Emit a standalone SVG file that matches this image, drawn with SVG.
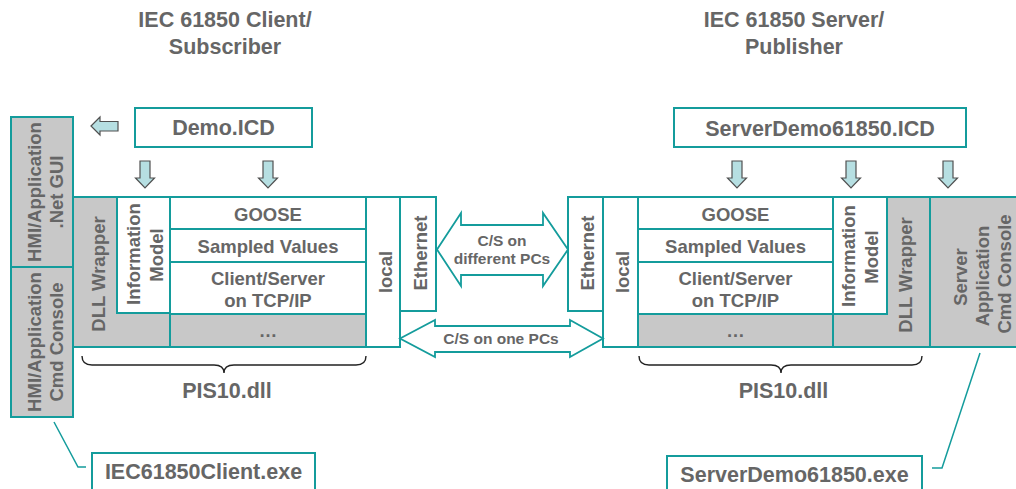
<svg xmlns="http://www.w3.org/2000/svg" width="1016" height="489" viewBox="0 0 1016 489">
<style>
text{font-family:"Liberation Sans",Arial,sans-serif;font-weight:bold;fill:#666666;text-anchor:middle}
.t{font-size:21.5px}
.m{font-size:18.5px}
.s{font-size:15.5px}
.w{fill:#ffffff;stroke:#149c9c;stroke-width:2}
.g{fill:#c8c8c8;stroke:#149c9c;stroke-width:2}
.arr{fill:#b6dfe2;stroke:#505050;stroke-width:1.2}
.dbl{fill:#ffffff;stroke:#149c9c;stroke-width:1.8}
.brace{fill:none;stroke:#222222;stroke-width:1.4}
.lead{fill:none;stroke:#149c9c;stroke-width:1.5}
</style>
<rect width="1016" height="489" fill="#ffffff"/>

<g id="titles">
<text class="t" x="225" y="27">IEC 61850 Client/</text>
<text class="t" x="225" y="54">Subscriber</text>
<text class="t" x="794" y="27">IEC 61850 Server/</text>
<text class="t" x="794" y="54">Publisher</text>
</g>

<g id="demo-icd">
<rect class="w" x="135" y="108" width="177" height="39"/>
<text class="t" x="223.5" y="135">Demo.ICD</text>
</g>
<g id="server-icd">
<rect class="w" x="674" y="108" width="292" height="39"/>
<text class="t" x="820" y="136">ServerDemo61850.ICD</text>
</g>

<g id="hmi-gui">
<rect class="g" x="11" y="117" width="62" height="150"/>
<text class="m" transform="translate(41,192) rotate(-90)">HMI/Application</text>
<text class="m" transform="translate(63,192) rotate(-90)">.Net GUI</text>
</g>
<g id="hmi-cmd">
<rect class="g" x="11" y="267" width="62" height="150"/>
<text class="m" transform="translate(41,342) rotate(-90)">HMI/Application</text>
<text class="m" transform="translate(63,342) rotate(-90)">Cmd Console</text>
</g>

<g id="client-dll-wrapper">
<rect class="g" x="73" y="197" width="97" height="150"/>
<text class="m" transform="translate(105,274) rotate(-90)">DLL Wrapper</text>
</g>
<g id="client-info-model">
<rect class="w" x="117" y="197" width="53" height="116"/>
<text class="m" transform="translate(140,254) rotate(-90)">Information</text>
<text class="m" transform="translate(163,255) rotate(-90)">Model</text>
</g>
<g id="client-goose">
<rect class="w" x="170" y="197" width="196" height="32"/>
<text class="m" x="268" y="221">GOOSE</text>
</g>
<g id="client-sv">
<rect class="w" x="170" y="229" width="196" height="33"/>
<text class="m" x="268" y="253">Sampled Values</text>
</g>
<g id="client-cs">
<rect class="w" x="170" y="262" width="196" height="52"/>
<text class="m" x="268" y="285">Client/Server</text>
<text class="m" x="268" y="307">on TCP/IP</text>
</g>
<g id="client-more">
<rect class="g" x="170" y="314" width="196" height="33"/>
<text class="m" x="268" y="337">…</text>
</g>
<g id="client-local">
<rect class="w" x="366" y="197" width="34" height="150"/>
<text class="m" transform="translate(392,272) rotate(-90)">local</text>
</g>
<g id="client-ethernet">
<rect class="w" x="400" y="197" width="36" height="114"/>
<text class="m" transform="translate(427,253) rotate(-90)">Ethernet</text>
</g>

<g id="server-ethernet">
<rect class="w" x="568" y="197" width="35" height="114"/>
<text class="m" transform="translate(594,253) rotate(-90)">Ethernet</text>
</g>
<g id="server-local">
<rect class="w" x="603" y="197" width="35" height="150"/>
<text class="m" transform="translate(629,272) rotate(-90)">local</text>
</g>
<g id="server-goose">
<rect class="w" x="638" y="197" width="195" height="32"/>
<text class="m" x="735.5" y="221">GOOSE</text>
</g>
<g id="server-sv">
<rect class="w" x="638" y="229" width="195" height="33"/>
<text class="m" x="735.5" y="253">Sampled Values</text>
</g>
<g id="server-cs">
<rect class="w" x="638" y="262" width="195" height="52"/>
<text class="m" x="735.5" y="285">Client/Server</text>
<text class="m" x="735.5" y="307">on TCP/IP</text>
</g>
<g id="server-more">
<rect class="g" x="638" y="314" width="195" height="33"/>
<text class="m" x="735.5" y="337">…</text>
</g>
<g id="server-dll-wrapper">
<rect class="g" x="833" y="197" width="97" height="150"/>
<text class="m" transform="translate(912,275) rotate(-90)">DLL Wrapper</text>
</g>
<g id="server-info-model">
<rect class="w" x="833" y="197" width="54" height="117"/>
<text class="m" transform="translate(855,256) rotate(-90)">Information</text>
<text class="m" transform="translate(878,257) rotate(-90)">Model</text>
</g>
<g id="server-app">
<rect class="g" x="930" y="197" width="95" height="150"/>
<text class="m" transform="translate(967,277) rotate(-90)">Server</text>
<text class="m" transform="translate(989,276) rotate(-90)">Application</text>
<text class="m" transform="translate(1011,274) rotate(-90)">Cmd Console</text>
</g>

<g id="pis-left">
<path class="brace" d="M82,356 Q82,365 92,365 L214,365 Q224,365 224,373 Q224,365 234,365 L356,365 Q366,365 366,356"/>
<text class="t" x="227" y="398">PIS10.dll</text>
</g>
<g id="pis-right">
<path class="brace" d="M639,356 Q639,365 649,365 L771,365 Q781,365 781,373 Q781,365 791,365 L912,365 Q922,365 922,356"/>
<text class="t" x="783.5" y="398">PIS10.dll</text>
</g>

<g id="client-exe">
<rect class="w" x="92" y="453" width="223" height="50"/>
<text class="t" x="203.5" y="479">IEC61850Client.exe</text>
</g>
<g id="server-exe">
<rect class="w" x="667" y="456" width="255" height="50"/>
<text class="t" x="794.5" y="482">ServerDemo61850.exe</text>
</g>

<g id="connectors">
<polygon class="arr" points="91,126 100,117 100,121.5 118,121.5 118,131 100,131 100,135"/>
<polygon class="arr" points="140,161 150,161 150,178 154.5,178 145,188 135.5,178 140,178"/>
<polygon class="arr" points="263,161 273,161 273,178 277.5,178 268,188 258.5,178 263,178"/>
<polygon class="arr" points="732,161 742,161 742,178 746.5,178 737,188 727.5,178 732,178"/>
<polygon class="arr" points="846,161 856,161 856,178 860.5,178 851,188 841.5,178 846,178"/>
<polygon class="arr" points="943,161 953,161 953,178 957.5,178 948,188 938.5,178 943,178"/>
<polygon class="dbl" points="437,249.5 461,213 461,225 543,225 543,213 568,249.5 543,286 543,275 461,275 461,286"/>
<text class="s" x="502" y="246">C/S on</text>
<text class="s" x="502" y="264">different PCs</text>
<polygon class="dbl" points="400,338.5 435,320 435,326 570,326 570,320 603,338.5 570,357 570,352 435,352 435,357"/>
<text class="s" x="501" y="344">C/S on one PCs</text>
<polyline class="lead" points="54,422 78,467 86,467"/>
<polyline class="lead" points="980,353 942,468 932,468"/>
</g>
</svg>
